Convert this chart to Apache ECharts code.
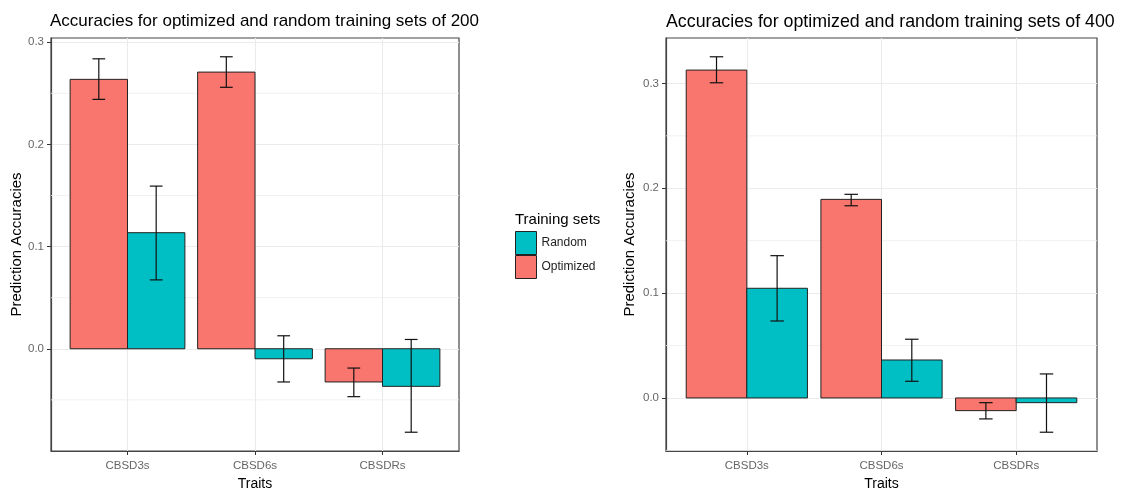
<!DOCTYPE html>
<html>
<head>
<meta charset="utf-8">
<script src="https://cdn.jsdelivr.net/npm/echarts@6/dist/echarts.min.js"></script>
<style>
html,body{margin:0;padding:0;background:#fff;}
#chart{width:1131px;height:489px;}
</style>
</head>
<body>
<div id="chart"></div>
<script>
// ---- data ----
const categories = ['CBSD3s', 'CBSD6s', 'CBSDRs'];
const legendNames = ['Random', 'Optimized'];
const titles = ['Accuracies for optimized and random training sets of 200',
                'Accuracies for optimized and random training sets of 400'];
const yTickValues = [0, 0.1, 0.2, 0.3];
const yMinorValues = [-0.05, 0.05, 0.15, 0.25];

// Training set of 200
const opt200 = [0.2637, 0.2708, -0.0325];
const opt200Lo = [0.2441, 0.2559, -0.0469];
const opt200Hi = [0.2838, 0.2858, -0.0189];
const rand200 = [0.1136, -0.0098, -0.0368];
const rand200Lo = [0.0674, -0.0325, -0.0817];
const rand200Hi = [0.1592, 0.0127, 0.0091];

// Training set of 400
const opt400 = [0.3127, 0.1894, -0.0121];
const opt400Lo = [0.3006, 0.1833, -0.0200];
const opt400Hi = [0.3254, 0.1942, -0.0045];
const rand400 = [0.1046, 0.0362, -0.0045];
const rand400Lo = [0.0734, 0.0159, -0.0327];
const rand400Hi = [0.1357, 0.0560, 0.0229];

// ---- styles ----
const COL_OPT = '#F8766D';
const COL_RAND = '#00BFC4';
const FONT = 'Liberation Sans, Arial, sans-serif';
const BAR_W = 0.45;
const CAP_W = 0.1;
const X_MIN = 0.4, X_MAX = 3.6;

function extent(los, his) {
  const lo = Math.min(0, ...los.flat());
  const hi = Math.max(0, ...his.flat());
  const pad = (hi - lo) * 0.05;
  return [lo - pad, hi + pad];
}

const grids = [
  {left: 51, top: 38, width: 408, height: 413},
  {left: 666, top: 38, width: 431, height: 413}
];
const ext200 = extent([opt200Lo, rand200Lo, opt200, rand200], [opt200Hi, rand200Hi, opt200, rand200]);
const ext400 = extent([opt400Lo, rand400Lo, opt400, rand400], [opt400Hi, rand400Hi, opt400, rand400]);
const yExt = [ext200, ext400];

function barSeries(name, gi, values, color, offset) {
  return {
    type: 'custom', name: name, xAxisIndex: gi, yAxisIndex: gi, z: 3,
    itemStyle: {color: color},
    data: values.map((v, i) => [i + 1, v]),
    renderItem: function (params, api) {
      const x = api.value(0) + offset;
      const v = api.value(1);
      const p0 = api.coord([x - BAR_W / 2, v]);
      const p1 = api.coord([x + BAR_W / 2, 0]);
      return {
        type: 'rect',
        shape: {x: Math.min(p0[0], p1[0]), y: Math.min(p0[1], p1[1]),
                width: Math.abs(p1[0] - p0[0]), height: Math.abs(p1[1] - p0[1])},
        style: {fill: color, stroke: '#222', lineWidth: 1}
      };
    }
  };
}

function errSeries(gi, los, his, offset) {
  return {
    type: 'custom', name: 'err' + gi + offset, xAxisIndex: gi, yAxisIndex: gi, z: 4,
    data: los.map((lo, i) => [i + 1, lo, his[i]]),
    renderItem: function (params, api) {
      const x = api.value(0) + offset;
      const a = api.coord([x, api.value(1)]);
      const b = api.coord([x, api.value(2)]);
      const l1 = api.coord([x - CAP_W / 2, api.value(1)]);
      const r1 = api.coord([x + CAP_W / 2, api.value(1)]);
      const l2 = api.coord([x - CAP_W / 2, api.value(2)]);
      const r2 = api.coord([x + CAP_W / 2, api.value(2)]);
      const st = {stroke: '#111', lineWidth: 1.2};
      return {
        type: 'group',
        children: [
          {type: 'line', shape: {x1: a[0], y1: a[1], x2: b[0], y2: b[1]}, style: st},
          {type: 'line', shape: {x1: l1[0], y1: l1[1], x2: r1[0], y2: r1[1]}, style: st},
          {type: 'line', shape: {x1: l2[0], y1: l2[1], x2: r2[0], y2: r2[1]}, style: st}
        ]
      };
    }
  };
}

function minorSeries(gi) {
  return {
    type: 'custom', name: 'minor' + gi, xAxisIndex: gi, yAxisIndex: gi, z: 1, silent: true,
    data: yMinorValues.map(v => [X_MIN, v]),
    renderItem: function (params, api) {
      const a = api.coord([X_MIN, api.value(1)]);
      const b = api.coord([X_MAX, api.value(1)]);
      return {type: 'line', shape: {x1: a[0], y1: a[1], x2: b[0], y2: b[1]},
              style: {stroke: '#EEEEEE', lineWidth: 0.8}};
    }
  };
}

const xAxes = grids.map((g, gi) => ({
  type: 'value', gridIndex: gi, min: X_MIN, max: X_MAX,
  name: 'Traits', nameLocation: 'middle', nameGap: 26,
  nameTextStyle: {fontSize: 14, color: '#000', fontFamily: FONT},
  axisLine: {show: true, onZero: false, lineStyle: {color: '#444', width: 1.2}},
  axisTick: {show: true, length: 4, lineStyle: {color: '#333'}, customValues: [1, 2, 3]},
  axisLabel: {customValues: [1, 2, 3], formatter: v => categories[Math.round(v) - 1] || '',
              fontSize: 11.5, color: '#666', margin: 9, fontFamily: FONT},
  splitLine: {show: true, lineStyle: {color: '#EBEBEB', width: 1.1}}
}));

const yAxes = grids.map((g, gi) => ({
  type: 'value', gridIndex: gi, min: yExt[gi][0], max: yExt[gi][1],
  name: 'Prediction Accuracies', nameLocation: 'middle', nameGap: gi === 0 ? 25 : 29,
  nameTextStyle: {fontSize: 15, color: '#000', fontFamily: FONT},
  axisLine: {show: true, onZero: false, lineStyle: {color: '#444', width: 1.2}},
  axisTick: {show: true, length: 4, lineStyle: {color: '#333'}, customValues: yTickValues},
  axisLabel: {customValues: yTickValues, formatter: v => v.toFixed(1),
              fontSize: 11.5, color: '#666', margin: 7, fontFamily: FONT},
  splitLine: {show: true, lineStyle: {color: '#EBEBEB', width: 1.1}}
}));

const series = [];
[[opt200, rand200, opt200Lo, opt200Hi, rand200Lo, rand200Hi],
 [opt400, rand400, opt400Lo, opt400Hi, rand400Lo, rand400Hi]].forEach((d, gi) => {
  series.push(minorSeries(gi));
  series.push(barSeries('Optimized', gi, d[0], COL_OPT, -BAR_W / 2));
  series.push(barSeries('Random', gi, d[1], COL_RAND, BAR_W / 2));
  series.push(errSeries(gi, d[2], d[3], -BAR_W / 2));
  series.push(errSeries(gi, d[4], d[5], BAR_W / 2));
});

const option = {
  animation: false,
  backgroundColor: '#fff',
  textStyle: {fontFamily: FONT},
  title: [
    {text: titles[0], left: 50, top: 13, padding: 0, textStyle: {fontSize: 17, fontWeight: 'normal', color: '#000', fontFamily: FONT}},
    {text: titles[1], left: 666, top: 13, padding: 0, textStyle: {fontSize: 17.8, fontWeight: 'normal', color: '#000', fontFamily: FONT}},
    {text: 'Training sets', left: 515, top: 212, padding: 0, textStyle: {fontSize: 15, fontWeight: 'normal', color: '#000', fontFamily: FONT}}
  ],
  legend: {
    orient: 'vertical', left: 515, top: 231, padding: 0,
    itemWidth: 21, itemHeight: 23, itemGap: 0, icon: 'rect',
    selectedMode: false,
    textStyle: {fontSize: 12, color: '#222', fontFamily: FONT, padding: [0, 0, 0, 0]},
    data: [
      {name: legendNames[0], itemStyle: {color: COL_RAND, borderColor: '#222', borderWidth: 1}},
      {name: legendNames[1], itemStyle: {color: COL_OPT, borderColor: '#222', borderWidth: 1}}
    ]
  },
  grid: grids.map(g => Object.assign({show: true, borderColor: '#444', borderWidth: 1.2, backgroundColor: '#fff',
                                      containLabel: false, outerBoundsMode: 'none'}, g)),
  xAxis: xAxes,
  yAxis: yAxes,
  series: series
};

const chart = echarts.init(document.getElementById('chart'), null, {renderer: 'canvas'});
chart.setOption(option);
</script>
</body>
</html>
